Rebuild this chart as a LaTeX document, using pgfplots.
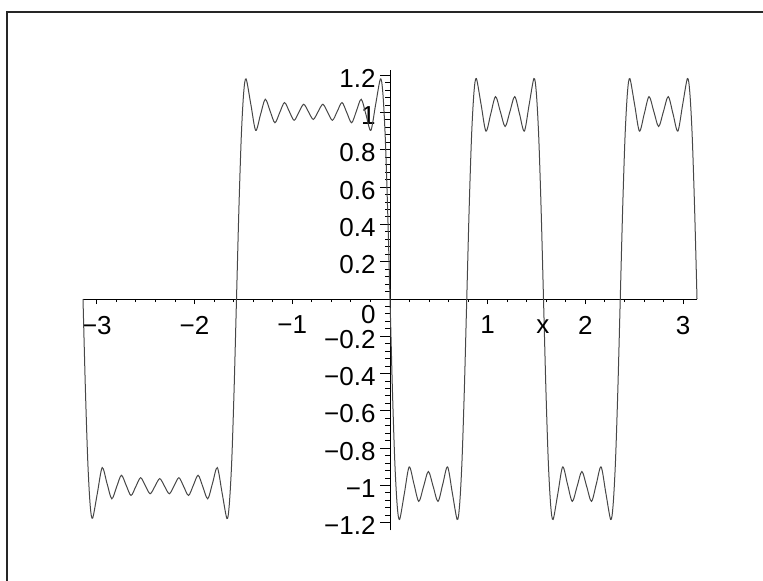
\documentclass[border=0pt]{standalone}
\usepackage{fontspec}
\setmainfont{Liberation Sans}
\usepackage{pgfplots}
\pgfplotsset{compat=1.18}
\pgfplotstableread{
x y
-3.1416 0
-3.1171 -0.483
-3.0925 -0.873
-3.0680 -1.107
-3.0434 -1.175
-2.9943 -1.040
-2.9452 -0.904
-2.8962 -0.988
-2.8471 -1.071
-2.7980 -1.008
-2.7489 -0.945
-2.6998 -0.999
-2.6507 -1.053
-2.6016 -1.006
-2.5525 -0.958
-2.5035 -1.001
-2.4544 -1.044
-2.4053 -1.004
-2.3562 -0.963
-2.3071 -1.004
-2.2580 -1.044
-2.2089 -1.001
-2.1598 -0.958
-2.1108 -1.006
-2.0617 -1.053
-2.0126 -0.999
-1.9635 -0.945
-1.9144 -1.008
-1.8653 -1.071
-1.8162 -0.988
-1.7671 -0.904
-1.7181 -1.040
-1.6690 -1.177
-1.6454 -1.107
-1.6199 -0.873
-1.5953 -0.483
-1.5708 0
-1.5463 0.483
-1.5217 0.873
-1.4972 1.107
-1.4726 1.180
-1.4235 1.042
-1.3744 0.904
-1.3254 0.988
-1.2763 1.071
-1.2272 1.008
-1.1781 0.945
-1.1290 0.999
-1.0799 1.053
-1.0308 1.006
-0.9817 0.958
-0.9327 1.001
-0.8836 1.044
-0.8345 1.004
-0.7854 0.963
-0.7363 1.004
-0.6872 1.044
-0.6381 1.001
-0.5890 0.958
-0.5400 1.006
-0.4909 1.053
-0.4418 0.999
-0.3927 0.945
-0.3436 1.008
-0.2945 1.071
-0.2454 0.988
-0.1963 0.904
-0.1473 1.042
-0.0982 1.180
-0.0736 1.107
-0.0491 0.873
-0.0245 0.483
0 0
0.0245 -0.483
0.0491 -0.873
0.0736 -1.107
0.0982 -1.182
0.1473 -1.041
0.1963 -0.900
0.2454 -0.9925
0.2945 -1.085
0.3436 -1.005
0.3927 -0.925
0.4418 -1.005
0.4909 -1.085
0.5400 -0.9925
0.5890 -0.900
0.6381 -1.041
0.6872 -1.182
0.7118 -1.107
0.7363 -0.873
0.7609 -0.483
0.7854 0
0.8099 0.483
0.8345 0.873
0.8590 1.107
0.8836 1.182
0.9327 1.041
0.9817 0.900
1.0308 0.9925
1.0799 1.085
1.1290 1.005
1.1781 0.925
1.2272 1.005
1.2763 1.085
1.3254 0.9925
1.3744 0.900
1.4235 1.041
1.4726 1.182
1.4972 1.107
1.5217 0.873
1.5463 0.483
1.5708 0
1.5953 -0.483
1.6199 -0.873
1.6444 -1.107
1.6690 -1.182
1.7181 -1.041
1.7671 -0.900
1.8162 -0.9925
1.8653 -1.085
1.9144 -1.005
1.9635 -0.925
2.0126 -1.005
2.0617 -1.085
2.1108 -0.9925
2.1598 -0.900
2.2089 -1.041
2.2580 -1.182
2.2826 -1.107
2.3071 -0.873
2.3317 -0.483
2.3562 0
2.3807 0.483
2.4053 0.873
2.4298 1.107
2.4544 1.182
2.5035 1.041
2.5525 0.900
2.6016 0.9925
2.6507 1.085
2.6998 1.005
2.7489 0.925
2.7980 1.005
2.8471 1.085
2.8962 0.9925
2.9452 0.900
2.9943 1.041
3.0434 1.182
3.0680 1.107
3.0925 0.873
3.1171 0.483
3.1416 0
}\curvedata
\begin{document}
\begin{tikzpicture}
\useasboundingbox (0,0) rectangle (381.5pt,290.5pt);
\draw[line width=1pt, color=black!85] (3.35pt,0) -- (3.35pt,284.5pt) -- (381.5pt,284.5pt);
\begin{axis}[
  at={(41.5pt,25.35pt)}, anchor=south west,
  scale only axis, width=307pt, height=230.35pt,
  xmin=-3.14159, xmax=3.14159, ymin=-1.24, ymax=1.23,
  axis lines=middle, axis line style={-, line width=0.5pt, black},
  clip=false,
  xtick={-3,-2,-1,1,2,3},
  xticklabels={−3,−2,−1,1,2,3},
  minor xtick={-3,-2.8,...,3},
  ytick={-1.2,-1,-0.8,-0.6,-0.4,-0.2,0.2,0.4,0.6,0.8,1,1.2},
  yticklabels={−1.2,−1,−0.8,−0.6,−0.4,−0.2,0.2,0.4,0.6,0.8,1,1.2},
  minor ytick={-1.2,-1.16,...,1.2},
  extra y ticks={0}, extra y tick labels={0},
  extra y tick style={yticklabel style={yshift=-6.5pt}},
  tick align=outside,
  tick style={black, line width=0.5pt},
  xtick style={/pgfplots/major tick length=2.5pt, /pgfplots/minor tick length=1.6pt},
  ytick style={/pgfplots/major tick length=5pt, /pgfplots/minor tick length=2.5pt},
  tick label style={font=\fontsize{13}{15}\selectfont, inner sep=0pt},
  xticklabel style={anchor=north, yshift=-4pt},
  yticklabel style={anchor=east, xshift=-2.8pt, yshift=-1.5pt},
  xlabel={x},
  xlabel style={at={(axis description cs:0.749,0.442)}, anchor=center, font=\fontsize{13}{15}\selectfont},
]
\addplot[color=black!72, line width=0.5pt, smooth, tension=0.5] table {\curvedata};
\end{axis}
\end{tikzpicture}
\end{document}
